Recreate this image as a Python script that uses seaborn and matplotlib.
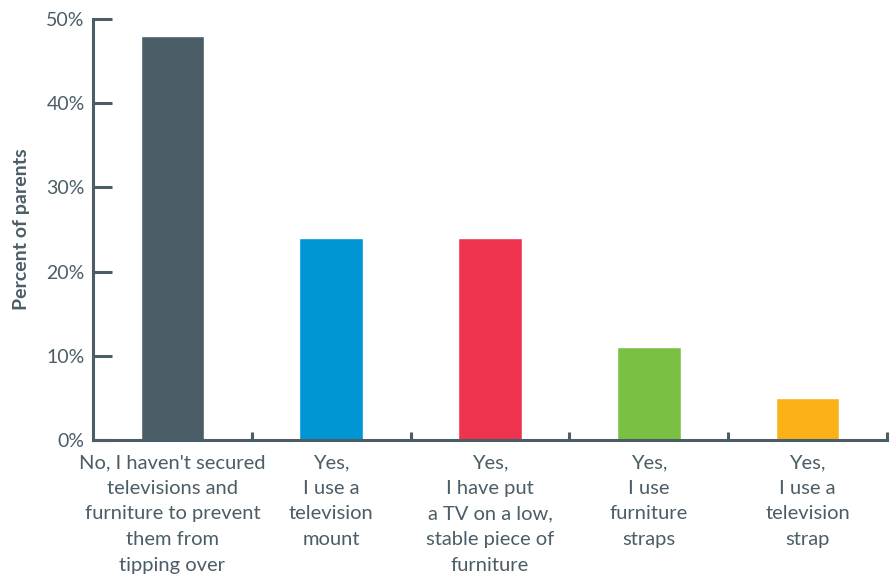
import matplotlib.pyplot as plt
import seaborn as sns
import pandas as pd
from matplotlib.ticker import FixedLocator

# data
categories = [
    "No, I haven't secured\ntelevisions and\nfurniture to prevent\nthem from\ntipping over",
    "Yes,\nI use a\ntelevision\nmount",
    "Yes,\nI have put\na TV on a low,\nstable piece of\nfurniture",
    "Yes,\nI use\nfurniture\nstraps",
    "Yes,\nI use a\ntelevision\nstrap",
]
values = [48, 24, 24, 11, 5]
colors = ["#4b5d67", "#0096d6", "#ee334e", "#7ac143", "#fdb119"]
y_ticks = [0, 10, 20, 30, 40, 50]
y_labels = ["0%", "10%", "20%", "30%", "40%", "50%"]

df = pd.DataFrame({"cat": categories, "val": values})

sns.set_style("white")
plt.rcParams["font.family"] = ["Lato", "DejaVu Sans"]
ink = "#4b5d67"

fig = plt.figure(figsize=(8.92, 5.76), dpi=100)
ax = fig.add_axes([0.1043, 0.2361, 0.8901, 0.7309])

sns.barplot(data=df, x="cat", y="val", hue="cat", palette=colors,
            width=0.4, saturation=1, legend=False, ax=ax)

ax.set_xlim(-0.5, 4.5)
ax.set_ylim(0, 50)
ax.set_yticks(y_ticks)
ax.set_yticklabels(y_labels)
ax.set_xlabel("")
ax.set_ylabel("Percent of parents", fontsize=14, fontweight="bold", color=ink, labelpad=12)

for side in ["top", "right"]:
    ax.spines[side].set_visible(False)
for side in ["left", "bottom"]:
    ax.spines[side].set_color(ink)
    ax.spines[side].set_linewidth(2.2)

ax.tick_params(axis="y", left=True, direction="in", length=14, width=2.2, color=ink,
               labelsize=14, labelcolor=ink, pad=6)
ax.tick_params(axis="x", which="major", bottom=True, length=0, labelsize=14.5,
               labelcolor=ink, pad=10)
ax.xaxis.set_minor_locator(FixedLocator([0.5, 1.5, 2.5, 3.5, 4.5]))
ax.tick_params(axis="x", which="minor", bottom=True, direction="in", length=6,
               width=2.2, color=ink)
for t in ax.get_xticklabels():
    t.set_linespacing(1.62)

fig.savefig("out.png", dpi=100)
